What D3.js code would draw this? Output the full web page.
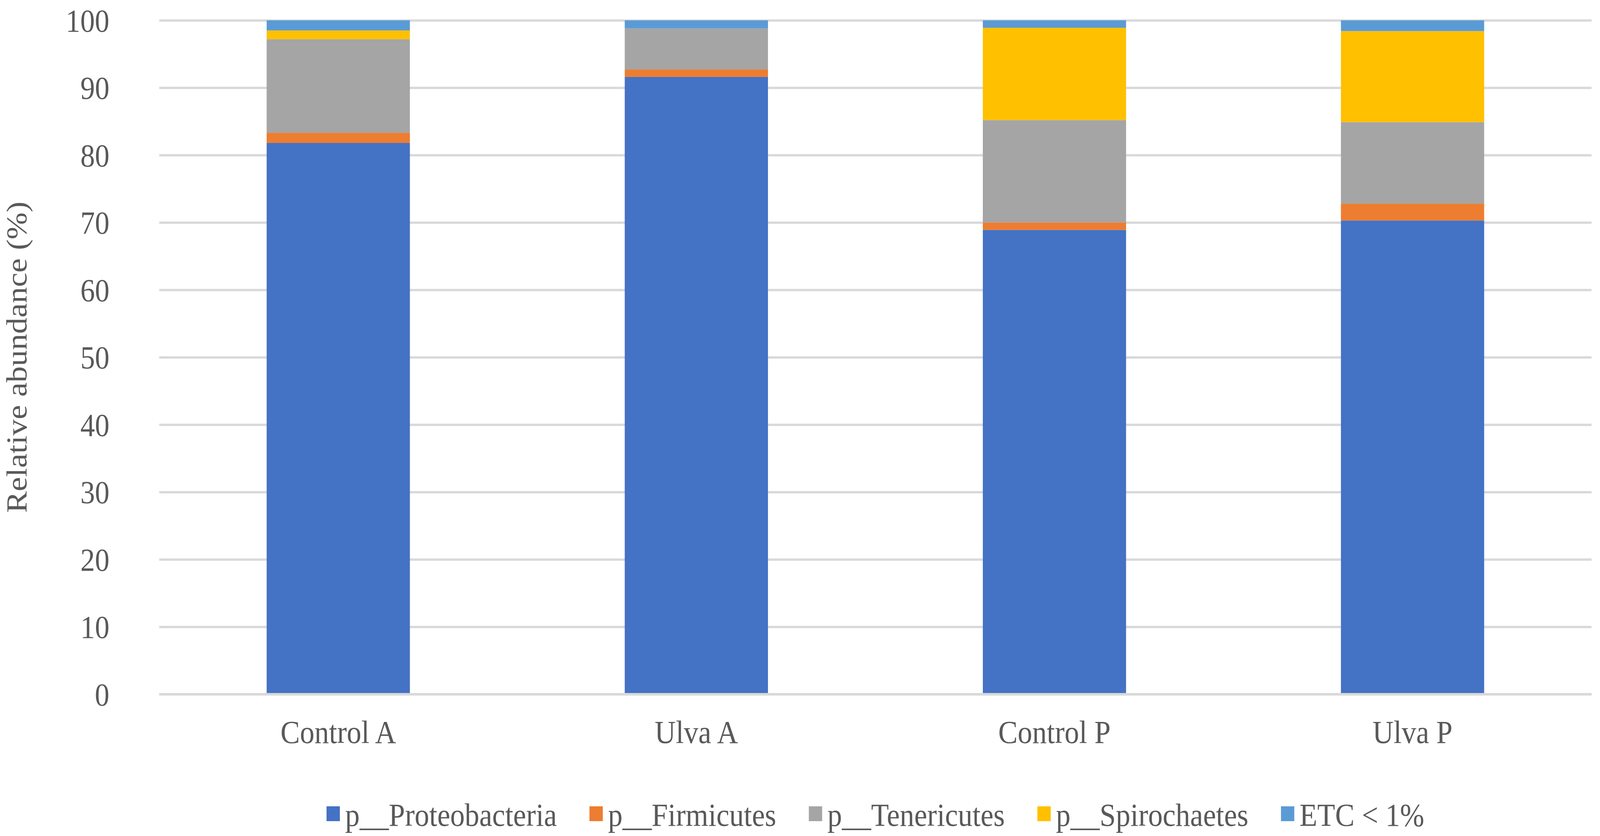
<!DOCTYPE html>
<html>
<head>
<meta charset="utf-8">
<script src="https://cdn.jsdelivr.net/npm/d3@7"></script>
<style>
  html, body { margin: 0; padding: 0; background: #fff; overflow: hidden; }
  svg { display: block; }
  text { font-family: "Liberation Serif", "Times New Roman", serif; fill: #595959; }
</style>
</head>
<body>
<div id="container"></div>
<script>
// chart is laid out in the reference's 4562x2140 frame and stretched to the window
const width = 4562;
const height = 2140;
const margin = {top: 52, right: 24, bottom: 363, left: 454};
const fontSize = "83px";

//------------------DATA------------------//
const samples = ["Control A", "Ulva A", "Control P", "Ulva P"];
const phyla = ["p__Proteobacteria", "p__Firmicutes", "p__Tenericutes", "p__Spirochaetes", "ETC < 1%"];
const proteobacteria = [81.8, 91.6, 68.9, 70.3];
const firmicutes     = [1.5, 1.1, 1.1, 2.5];
const tenericutes    = [13.9, 6.1, 15.2, 12.1];
const spirochaetes   = [1.3, 0.0, 13.7, 13.5];
const etc            = [1.5, 1.2, 1.1, 1.6];
const yTicks = [0, 10, 20, 30, 40, 50, 60, 70, 80, 90, 100];
const colors = ["#4472C4", "#ED7D31", "#A5A5A5", "#FFC000", "#5B9BD5"];

const rows = samples.map(function(s, i) {
    return {
        sample: s,
        "p__Proteobacteria": proteobacteria[i],
        "p__Firmicutes": firmicutes[i],
        "p__Tenericutes": tenericutes[i],
        "p__Spirochaetes": spirochaetes[i],
        "ETC < 1%": etc[i]
    };
});
const stacked = d3.stack().keys(phyla)(rows);

//------------------SVG------------------//
const svg = d3.select("#container").append("svg")
    .attr("viewBox", "0 0 " + width + " " + height)
    .attr("preserveAspectRatio", "none")
    .style("width", "100vw")
    .style("height", "100vh");

const plotW = width - margin.left - margin.right;
const plotH = 1777 - margin.top;
const g = svg.append("g").attr("transform", "translate(" + margin.left + "," + margin.top + ")");

//------------------SCALES------------------//
const x = d3.scaleBand().domain(samples).range([0, plotW]).paddingInner(0.6).paddingOuter(0.3);
const y = d3.scaleLinear().domain([0, 100]).range([plotH, 0]);
const color = d3.scaleOrdinal().domain(phyla).range(colors);

//------------------GRID + Y AXIS------------------//
const yAxis = g.append("g")
    .call(d3.axisLeft(y).tickValues(yTicks).tickSize(-plotW).tickPadding(142));
yAxis.select(".domain").remove();
yAxis.selectAll(".tick line").attr("stroke", "#d9d9d9").attr("stroke-width", 6);
yAxis.selectAll(".tick text")
    .style("font-size", fontSize)
    .style("font-family", "Liberation Serif")
    .attr("fill", "#595959")
    .attr("dy", "0.34em");

//------------------BARS------------------//
g.selectAll(".layer")
    .data(stacked)
    .enter()
    .append("g")
    .attr("class", "layer")
    .attr("fill", function(d) { return color(d.key); })
    .selectAll("rect")
    .data(function(d) { return d; })
    .enter()
    .append("rect")
    .attr("x", function(d) { return x(d.data.sample); })
    .attr("width", x.bandwidth())
    .attr("y", function(d) { return y(d[1]); })
    .attr("height", function(d) { return y(d[0]) - y(d[1]); });

// baseline over the bars like excel
g.append("line")
    .attr("x1", 0).attr("x2", plotW)
    .attr("y1", y(0)).attr("y2", y(0))
    .attr("stroke", "#d9d9d9").attr("stroke-width", 6);

//------------------X AXIS------------------//
const xAxis = g.append("g")
    .attr("transform", "translate(0," + plotH + ")")
    .call(d3.axisBottom(x).tickSize(0).tickPadding(66));
xAxis.select(".domain").remove();
xAxis.selectAll(".tick text")
    .style("font-size", fontSize)
    .style("font-family", "Liberation Serif")
    .attr("fill", "#595959");

//------------------Y TITLE------------------//
svg.append("text")
    .attr("transform", "translate(" + 47 + "," + (margin.top + plotH / 2) + ") rotate(-90)")
    .attr("text-anchor", "middle")
    .attr("dy", "0.35em")
    .style("font-size", fontSize)
    .text("Relative abundance (%)");

//------------------LEGEND------------------//
const legend = svg.append("g").attr("class", "legend");
const box = 38, boxGap = 15, itemGap = 93;
let lx = 0;
phyla.forEach(function(p) {
    const item = legend.append("g").attr("transform", "translate(" + lx + ",0)");
    item.append("rect")
        .attr("x", 0).attr("y", -box / 2 - 2)
        .attr("width", box).attr("height", box)
        .attr("fill", color(p));
    const t = item.append("text")
        .attr("x", box + boxGap)
        .attr("dy", "0.35em")
        .style("font-size", fontSize)
        .text(p);
    lx += box + boxGap + t.node().getComputedTextLength() + itemGap;
});
lx -= itemGap;
legend.attr("transform", "translate(" + (margin.left + plotW / 2 - lx / 2) + ",2085)");
</script>
</body>
</html>
